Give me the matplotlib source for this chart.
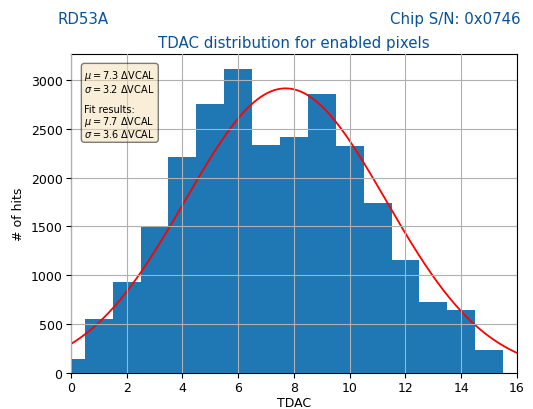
import numpy as np
import matplotlib
matplotlib.use("Agg")
import matplotlib.pyplot as plt

# TDAC histogram contents (bin centres 0..15)
tdac_values = [0, 1, 2, 3, 4, 5, 6, 7, 8, 9, 10, 11, 12, 13, 14, 15]
hit_counts = [143, 551, 932, 1493, 2214, 2758, 3112, 2337, 2418, 2857, 2327, 1745, 1153, 724, 643, 235]

# Data statistics and Gaussian fit parameters
data_mu, data_sigma = 7.3, 3.2
fit_amp, fit_mu, fit_sigma = 2915.0, 7.7, 3.6

title_color = "#07529a"

fig = plt.figure(figsize=(5.33, 4.10), dpi=100)
ax = fig.add_axes([0.133, 0.088, 0.837, 0.778])

ax.bar(tdac_values, hit_counts, width=1.0, align="center", color="#1f77b4")

x = np.linspace(0, 16, 400)
ax.plot(x, fit_amp * np.exp(-0.5 * ((x - fit_mu) / fit_sigma) ** 2), color="red", lw=1.3)

ax.set_xlim(0, 16)
ax.set_xticks(range(0, 17, 2))
ax.set_axisbelow(False)
ax.grid(True, color="#b0b0b0", lw=0.8)

ax.tick_params(labelsize=9, pad=2.5)
ax.set_xlabel("TDAC", fontsize=9, labelpad=1)
ax.set_ylabel("# of hits", fontsize=9)
ax.set_title("TDAC distribution for enabled pixels", color=title_color, fontsize=10.8, pad=5)

fig.text(0.107, 0.942, "RD53A", color=title_color, fontsize=10.8)
fig.text(0.977, 0.942, "Chip S/N: 0x0746", color=title_color, fontsize=10.8, ha="right")

textstr = ("$\\mu=%.1f$ $\\Delta$VCAL\n$\\sigma=%.1f$ $\\Delta$VCAL\n\nFit results:\n"
           "$\\mu=%.1f$ $\\Delta$VCAL\n$\\sigma=%.1f$ $\\Delta$VCAL"
           % (data_mu, data_sigma, fit_mu, fit_sigma))
ax.text(0.03, 0.955, textstr, transform=ax.transAxes, fontsize=7, va="top",
        linespacing=0.98,
        bbox=dict(boxstyle="round", facecolor="wheat", alpha=0.5))

fig.savefig("out.png", dpi=100)
